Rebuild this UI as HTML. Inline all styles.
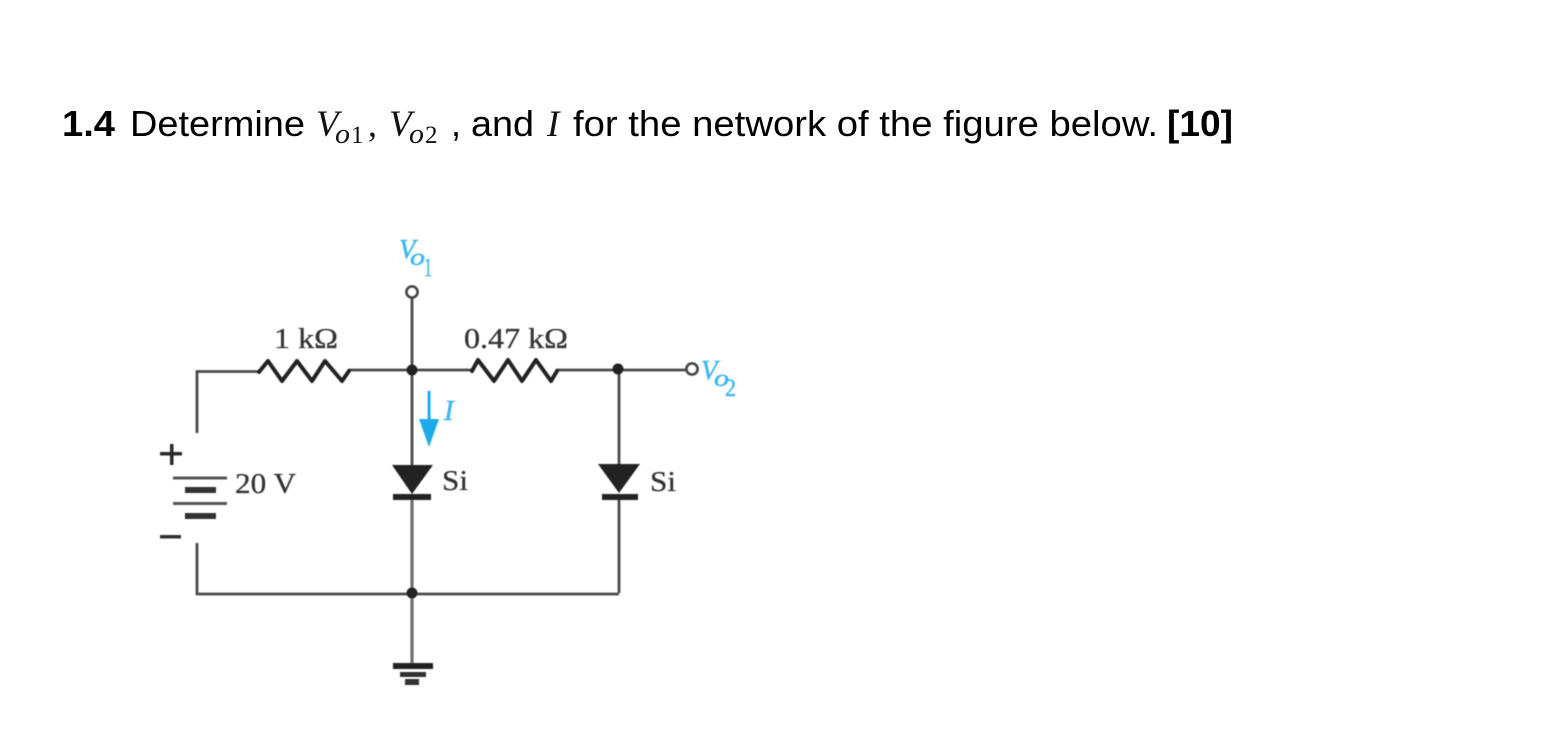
<!DOCTYPE html>
<html>
<head>
<meta charset="utf-8">
<style>
html,body{margin:0;padding:0;background:#fff;width:1546px;height:741px;overflow:hidden}
svg{display:block}
.h{font-family:"Liberation Sans",sans-serif;font-size:36px;fill:#000}
.b{font-weight:bold}
.m{font-family:"Liberation Serif",serif;fill:#111}
.f{font-family:"Liberation Serif",serif;fill:#333;stroke:#333;stroke-width:.3}
.c{font-family:"Liberation Serif",serif;font-style:italic;fill:#3db8ee;stroke:#3db8ee;stroke-width:.5}
</style>
</head>
<body>
<svg width="1546" height="741" viewBox="0 0 1546 741" xmlns="http://www.w3.org/2000/svg">
<defs><filter id="bl" x="-5%" y="-5%" width="110%" height="110%"><feGaussianBlur stdDeviation="0.6"/></filter></defs>

<text class="h b" x="62" y="136" textLength="53" lengthAdjust="spacingAndGlyphs">1.4</text>
<text class="h" x="130" y="136" textLength="175" lengthAdjust="spacingAndGlyphs">Determine</text>
<text class="m" x="316" y="136" font-size="37" font-style="italic">V</text>
<text class="m" x="335" y="143" font-size="28" font-style="italic" textLength="15" lengthAdjust="spacingAndGlyphs">o</text>
<text class="m" x="351" y="143" font-size="25">1</text>
<text class="m" x="368" y="136" font-size="36">,</text>
<text class="m" x="389" y="136" font-size="37" font-style="italic">V</text>
<text class="m" x="409" y="143" font-size="28" font-style="italic" textLength="15" lengthAdjust="spacingAndGlyphs">o</text>
<text class="m" x="425" y="143" font-size="25">2</text>
<text class="h" x="451" y="136">,</text>
<text class="h" x="471" y="136" textLength="63" lengthAdjust="spacingAndGlyphs">and</text>
<text class="m" x="547" y="136" font-size="37" font-style="italic">I</text>
<text class="h" x="573" y="136" textLength="585" lengthAdjust="spacingAndGlyphs">for the network of the figure below.</text>
<text class="h b" x="1167" y="136" textLength="66" lengthAdjust="spacingAndGlyphs">[10]</text>

<g filter="url(#bl)">
<g fill="none" stroke="#4a4a4a" stroke-width="2.8">
<path d="M197 433V371.5H260"/>
<path d="M348 370H412H472"/>
<path d="M556 370H618H686"/>
<path d="M412 298V465"/>
<path d="M412 498V666" stroke="#6e6e6e" stroke-width="3.2"/>
<path d="M619 369V464"/>
<path d="M619 498V593"/>
<path d="M197 543V594H412H619"/>
</g>
<g fill="none" stroke="#222" stroke-width="4" stroke-linejoin="round" stroke-linecap="round">
<path d="M259 372L268 361L282 381L297 361L312 381L325 361L342 381L349 371"/>
<path d="M472 371L478 360L494 381L508 360L522 381L536 360L551 381L557 371"/>
</g>
<circle cx="412" cy="292" r="5.5" fill="#fff" stroke="#444" stroke-width="2.8"/>
<circle cx="692" cy="369" r="5.5" fill="#fff" stroke="#444" stroke-width="2.8"/>
<circle cx="412" cy="370" r="5.5" fill="#222"/>
<circle cx="618" cy="369" r="5.5" fill="#222"/>
<circle cx="412" cy="593" r="5.5" fill="#222"/>

<path d="M392 465H433L412 494Z" fill="#222"/>
<rect x="393" y="494" width="38" height="6" fill="#222"/>
<path d="M598 464H640L619 493Z" fill="#222"/>
<rect x="602" y="494" width="36" height="6" fill="#222"/>

<g fill="#333">
<rect x="173" y="476.5" width="54" height="3" fill="#555"/>
<rect x="185" y="487" width="31" height="6"/>
<rect x="173" y="502" width="54" height="3" fill="#555"/>
<rect x="185" y="513" width="31" height="6"/>
<rect x="160" y="452" width="22" height="3.5" fill="#2a2a2a"/>
<rect x="170" y="444" width="3.5" height="21" fill="#2a2a2a"/>
<rect x="160" y="535" width="21" height="3.5"/>
<rect x="393" y="663" width="40" height="6" fill="#222"/>
<rect x="400" y="672" width="26" height="5"/>
<rect x="405" y="679" width="14" height="6"/>
</g>

<rect x="427.6" y="391" width="3" height="32" fill="#1eaaea"/>
<path d="M419 419H439L429 447Z" fill="#1eaaea"/>

<text class="f" x="274" y="348" font-size="28" textLength="64" lengthAdjust="spacingAndGlyphs">1 kΩ</text>
<text class="f" x="464" y="348" font-size="28" textLength="104" lengthAdjust="spacingAndGlyphs">0.47 kΩ</text>
<text class="f" x="235" y="493" font-size="29" textLength="61" lengthAdjust="spacingAndGlyphs">20 V</text>
<text class="f" x="442" y="490" font-size="28" textLength="26" lengthAdjust="spacingAndGlyphs">Si</text>
<text class="f" x="650" y="491" font-size="28" textLength="26" lengthAdjust="spacingAndGlyphs">Si</text>

<text class="c" x="399" y="258" font-size="27">V</text>
<text class="c" x="410" y="265" font-size="24" textLength="15" lengthAdjust="spacingAndGlyphs">o</text>
<text class="c" x="424" y="276" font-size="26" style="font-style:normal" textLength="8" lengthAdjust="spacingAndGlyphs">1</text>
<text class="c" x="701" y="379" font-size="27">V</text>
<text class="c" x="714" y="386" font-size="24" textLength="15" lengthAdjust="spacingAndGlyphs">o</text>
<text class="c" x="725" y="396" font-size="25" style="font-style:normal" textLength="11" lengthAdjust="spacingAndGlyphs">2</text>
<text class="c" x="444" y="420" font-size="29">I</text>
</g>
</svg>
</body>
</html>
